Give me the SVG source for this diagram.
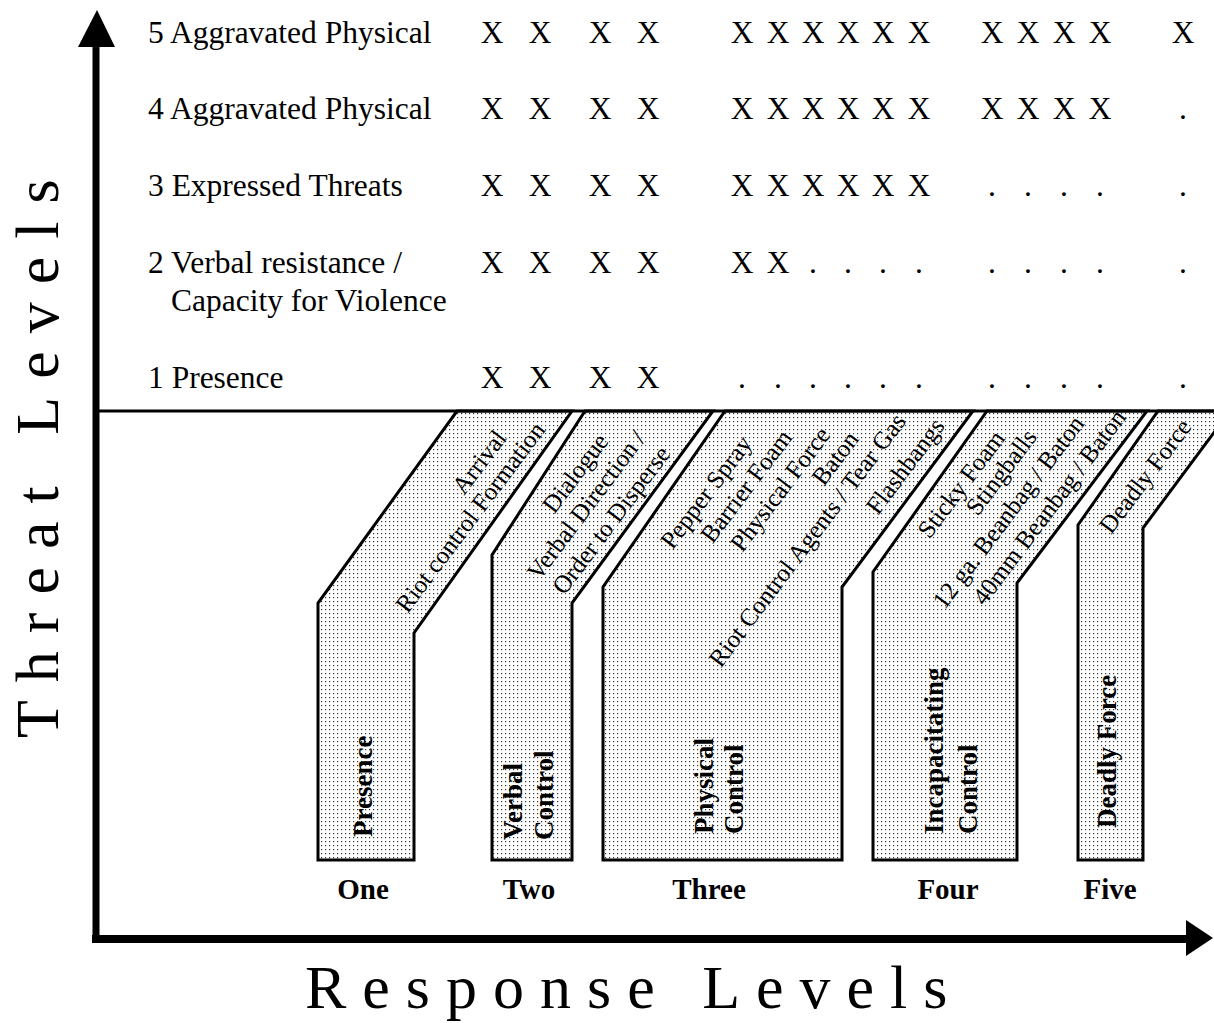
<svg xmlns="http://www.w3.org/2000/svg" width="1214" height="1023" viewBox="0 0 1214 1023">
<defs>
<pattern id="dots" patternUnits="userSpaceOnUse" width="4" height="4">
<rect width="4" height="4" fill="#fff"/>
<rect x="1" y="1" width="1.2" height="1.2" fill="#333"/>
</pattern>
<style>
text{font-family:"Liberation Serif","Times New Roman",serif;fill:#000}
.row{font-size:31.5px}
.mk{font-size:31.5px;text-anchor:middle}
.diag{font-size:25px;text-anchor:middle;dominant-baseline:central}
.vert{font-size:27px;font-weight:bold}
.lvl{font-size:29px;font-weight:bold;text-anchor:middle}
.title{font-size:62px}
.band{fill:url(#dots);stroke:#000;stroke-width:3;stroke-linejoin:miter}
</style>
</defs>
<rect width="1214" height="1023" fill="#fff"/>

<g id="band-one">
<path class="band" d="M318,860 L318,603 L457,411 L572,411 L414,633 L414,860 Z"/>
<text class="diag" transform="translate(479,462) rotate(-53)">Arrival</text>
<text class="diag" transform="translate(470,517) rotate(-53)">Riot control Formation</text>
<text class="vert" transform="translate(372,837) rotate(-90)">Presence</text>
<text class="lvl" x="363" y="899">One</text>
</g>

<g id="band-two">
<path class="band" d="M492,860 L492,555 L585,411 L713,411 L572,603 L572,860 Z"/>
<text class="diag" transform="translate(575,473) rotate(-53)">Dialogue</text>
<text class="diag" transform="translate(586,505) rotate(-53)">Verbal Direction /</text>
<text class="diag" transform="translate(611,520) rotate(-53)">Order to Disperse</text>
<text class="vert" transform="translate(522,840) rotate(-90)">Verbal</text>
<text class="vert" transform="translate(553,840) rotate(-90)">Control</text>
<text class="lvl" x="529" y="899">Two</text>
</g>

<g id="band-three">
<path class="band" d="M603,860 L603,587 L725,411 L973,411 L842,587 L842,860 Z"/>
<text class="diag" transform="translate(706,492) rotate(-53)">Pepper Spray</text>
<text class="diag" transform="translate(746,486) rotate(-53)">Barrier Foam</text>
<text class="diag" transform="translate(780,489) rotate(-53)">Physical Force</text>
<text class="diag" transform="translate(835,458) rotate(-53)">Baton</text>
<text class="diag" transform="translate(807,540) rotate(-53)">Riot Control Agents / Tear Gas</text>
<text class="diag" transform="translate(905,466) rotate(-53)">Flashbangs</text>
<text class="vert" transform="translate(713,834) rotate(-90)">Physical</text>
<text class="vert" transform="translate(743,834) rotate(-90)">Control</text>
<text class="lvl" x="709" y="899">Three</text>
</g>

<g id="band-four">
<path class="band" d="M873,860 L873,572 L987,411 L1147,411 L1017,583 L1017,860 Z"/>
<text class="diag" transform="translate(961,484) rotate(-53)">Sticky Foam</text>
<text class="diag" transform="translate(1001,472) rotate(-53)">Stingballs</text>
<text class="diag" transform="translate(1008,512) rotate(-53)">12 ga. Beanbag / Baton</text>
<text class="diag" transform="translate(1049,507) rotate(-53)">40mm Beanbag / Baton</text>
<text class="vert" transform="translate(943,834) rotate(-90)">Incapacitating</text>
<text class="vert" transform="translate(977,834) rotate(-90)">Control</text>
<text class="lvl" x="948" y="899">Four</text>
</g>

<g id="band-five">
<path class="band" d="M1078,860 L1078,525 L1158,411 L1230,411 L1143,528 L1143,860 Z"/>
<text class="diag" transform="translate(1145,476) rotate(-53)">Deadly Force</text>
<text class="vert" transform="translate(1116,828) rotate(-90)">Deadly Force</text>
<text class="lvl" x="1110" y="899">Five</text>
</g>

<g id="connectors">
<line x1="96" y1="411" x2="1214" y2="411" stroke="#000" stroke-width="3"/>
<line x1="96" y1="943" x2="96" y2="40" stroke="#000" stroke-width="7"/>
<polygon points="97,10 78,47 115,47" fill="#000"/>
<line x1="92" y1="939" x2="1190" y2="939" stroke="#000" stroke-width="8"/>
<polygon points="1186,920 1213,938 1186,956" fill="#000"/>
</g>

<g id="threat-rows">
<text class="row" x="148" y="43">5 Aggravated Physical</text>
<text class="row" x="148" y="119">4 Aggravated Physical</text>
<text class="row" x="148" y="196">3 Expressed Threats</text>
<text class="row" x="148" y="273">2 Verbal resistance /</text>
<text class="row" x="171" y="311">Capacity for Violence</text>
<text class="row" x="148" y="388">1 Presence</text>
</g>

<g id="marks">
<g transform="translate(0,43)">
<text class="mk" x="492">X</text><text class="mk" x="540">X</text><text class="mk" x="600">X</text><text class="mk" x="648">X</text>
<text class="mk" x="742">X</text><text class="mk" x="778">X</text><text class="mk" x="813">X</text><text class="mk" x="848">X</text><text class="mk" x="883">X</text><text class="mk" x="919">X</text>
<text class="mk" x="992">X</text><text class="mk" x="1028">X</text><text class="mk" x="1064">X</text><text class="mk" x="1100">X</text>
<text class="mk" x="1183">X</text>
</g>
<g transform="translate(0,119)">
<text class="mk" x="492">X</text><text class="mk" x="540">X</text><text class="mk" x="600">X</text><text class="mk" x="648">X</text>
<text class="mk" x="742">X</text><text class="mk" x="778">X</text><text class="mk" x="813">X</text><text class="mk" x="848">X</text><text class="mk" x="883">X</text><text class="mk" x="919">X</text>
<text class="mk" x="992">X</text><text class="mk" x="1028">X</text><text class="mk" x="1064">X</text><text class="mk" x="1100">X</text>
<text class="mk" x="1183">.</text>
</g>
<g transform="translate(0,196)">
<text class="mk" x="492">X</text><text class="mk" x="540">X</text><text class="mk" x="600">X</text><text class="mk" x="648">X</text>
<text class="mk" x="742">X</text><text class="mk" x="778">X</text><text class="mk" x="813">X</text><text class="mk" x="848">X</text><text class="mk" x="883">X</text><text class="mk" x="919">X</text>
<text class="mk" x="992">.</text><text class="mk" x="1028">.</text><text class="mk" x="1064">.</text><text class="mk" x="1100">.</text>
<text class="mk" x="1183">.</text>
</g>
<g transform="translate(0,273)">
<text class="mk" x="492">X</text><text class="mk" x="540">X</text><text class="mk" x="600">X</text><text class="mk" x="648">X</text>
<text class="mk" x="742">X</text><text class="mk" x="778">X</text><text class="mk" x="813">.</text><text class="mk" x="848">.</text><text class="mk" x="883">.</text><text class="mk" x="919">.</text>
<text class="mk" x="992">.</text><text class="mk" x="1028">.</text><text class="mk" x="1064">.</text><text class="mk" x="1100">.</text>
<text class="mk" x="1183">.</text>
</g>
<g transform="translate(0,388)">
<text class="mk" x="492">X</text><text class="mk" x="540">X</text><text class="mk" x="600">X</text><text class="mk" x="648">X</text>
<text class="mk" x="742">.</text><text class="mk" x="778">.</text><text class="mk" x="813">.</text><text class="mk" x="848">.</text><text class="mk" x="883">.</text><text class="mk" x="919">.</text>
<text class="mk" x="992">.</text><text class="mk" x="1028">.</text><text class="mk" x="1064">.</text><text class="mk" x="1100">.</text>
<text class="mk" x="1183">.</text>
</g>
</g>

<g id="axis-titles">
<text class="title" letter-spacing="18" transform="translate(58,738) rotate(-90)">Threat Levels</text>
<text class="title" letter-spacing="16" x="305" y="1008">Response Levels</text>
</g>
</svg>
